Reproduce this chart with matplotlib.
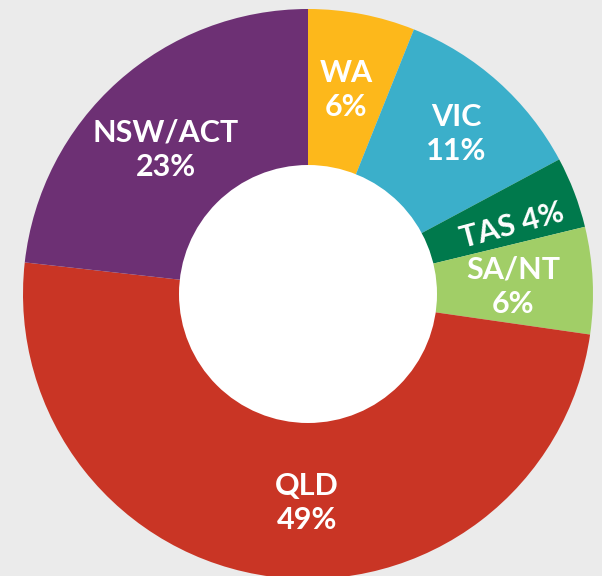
import matplotlib
matplotlib.use("Agg")
import matplotlib.pyplot as plt
from matplotlib.patches import Circle

# Data
regions = ["WA", "VIC", "TAS", "SA/NT", "QLD", "NSW/ACT"]
shares = [6, 11, 4, 6, 49, 23]
label_texts = ["WA\n6%", "VIC\n11%", "TAS 4%", "SA/NT\n6%", "QLD\n49%", "NSW/ACT\n23%"]

# Styles
colors = ["#FDB81B", "#3BAFCA", "#00794C", "#A1CE67", "#C93525", "#6D3074"]
bg = "#EBEBEB"
W, H = 602, 576
cx, cy_img = 308, 294
R_out, R_in = 285, 129
# label positions (image pixel coords) and rotations
label_pos = [(346, 90), (456, 134), (512, 226), (513, 287), (307, 503), (166, 150)]
label_rot = [0, 0, 15, 0, 0, 0]

fig = plt.figure(figsize=(W / 100, H / 100), dpi=100, facecolor=bg)
ax = fig.add_axes([0, 0, 1, 1])
ax.set_facecolor(bg)
cy = H - cy_img

ax.pie(shares, colors=colors, startangle=90, counterclock=False,
       radius=R_out, center=(cx, cy),
       wedgeprops=dict(edgecolor="none", linewidth=0))
ax.add_patch(Circle((cx, cy), R_in, facecolor="white", edgecolor="none", zorder=3))

for txt, (x, y), rot in zip(label_texts, label_pos, label_rot):
    ax.text(x, H - y, txt, ha="center", va="center", color="white",
            fontsize=22, fontweight="bold", family=["Lato", "DejaVu Sans"],
            linespacing=1.3, rotation=rot, rotation_mode="anchor", zorder=4)

ax.set_xlim(0, W)
ax.set_ylim(0, H)
ax.set_aspect("equal")
ax.set_axis_off()
fig.savefig("out.png", dpi=100, facecolor=bg)
